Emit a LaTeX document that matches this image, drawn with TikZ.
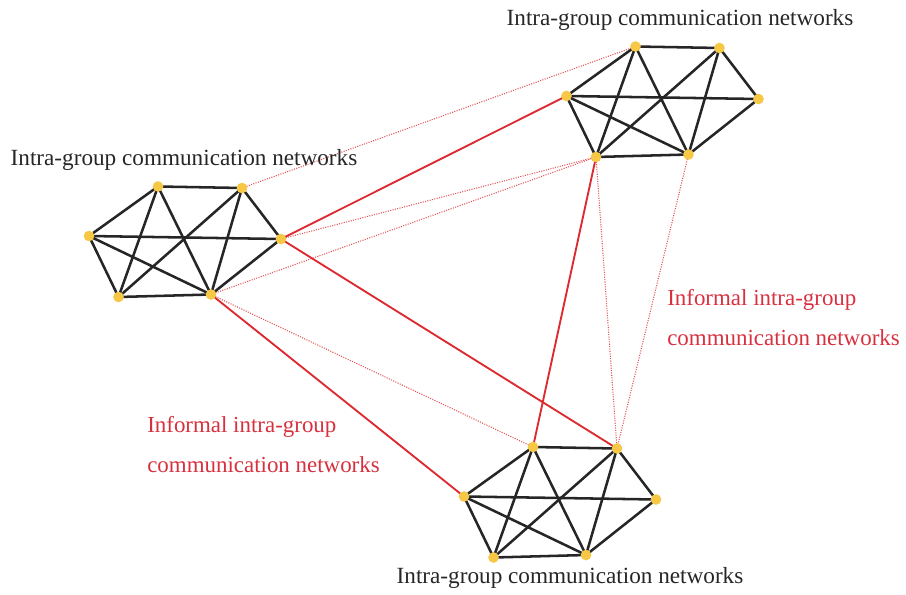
\documentclass[tikz,border=0pt]{standalone}
\usepackage{fontspec}
\setmainfont{Liberation Serif}
\begin{document}
\begin{tikzpicture}[x=0.75pt,y=-0.75pt,
  vertex/.style={circle,fill=dotyellow,inner sep=0pt,minimum size=8pt},
  intra/.style={line width=1.9pt,draw=black!85},
  formal/.style={line width=1.4pt,draw=linkred},
  informal/.style={line width=0.8pt,draw=linkred!80,dash pattern=on 0.8pt off 1pt},
  grouplabel/.style={font=\fontsize{17.4}{20}\selectfont,text=black!85,inner sep=0pt},
  informallabel/.style={font=\fontsize{17.2}{30}\selectfont,text=labelred,align=left,inner sep=0pt}]
\definecolor{dotyellow}{HTML}{F7C846}
\definecolor{linkred}{HTML}{DC2A30}
\definecolor{labelred}{HTML}{D8303E}
\useasboundingbox (0,0) rectangle (906,595);

% one communication group: six members, twelve ties
\newcommand{\groupnet}[3]{%
  \begin{scope}[shift={(#1,#2)}]
    \coordinate (#3a) at (69,-49.5);
    \coordinate (#3b) at (153,-48);
    \coordinate (#3c) at (192,3);
    \coordinate (#3d) at (122,58.5);
    \coordinate (#3e) at (29.5,61);
    \coordinate (#3f) at (0,0);
  \end{scope}
  \foreach \u/\v in {a/b,b/c,c/d,d/e,e/f,f/a,f/c,a/e,a/d,b/e,b/d,f/d}
    \draw[intra] (#3\u) -- (#3\v);
}

\groupnet{89}{236}{L}
\groupnet{566.5}{96}{T}
\groupnet{464}{496.5}{B}

% informal links between groups
\draw[informal] (Lb) -- (Ta);
\draw[informal] (Lc) -- (Te);
\draw[informal] (Ld) -- (Te);
\draw[informal] (Ld) -- (Ba);
\draw[informal] (Te) -- (Bb);
\draw[informal] (Td) -- (Bb);

% formal links between groups
\draw[formal] (Lc) -- (Tf);
\draw[formal] (Lc) -- (Bb);
\draw[formal] (Ld) -- (Bf);
\draw[formal] (Te) -- (Ba);

% members
\foreach \g in {L,T,B}
  \foreach \m in {a,b,c,d,e,f}
    \node[vertex] (\g\m n) at (\g\m) {};

% labels
\node[grouplabel] (labL) at (184,160) {Intra-group communication networks};
\node[grouplabel] (labT) at (680,20) {Intra-group communication networks};
\node[grouplabel] (labB) at (570,578) {Intra-group communication networks};
\node[informallabel,anchor=west] (infL) at (147,445) {Informal intra-group\\communication networks};
\node[informallabel,anchor=west] (infR) at (667,318) {Informal intra-group\\communication networks};
\end{tikzpicture}
\end{document}
